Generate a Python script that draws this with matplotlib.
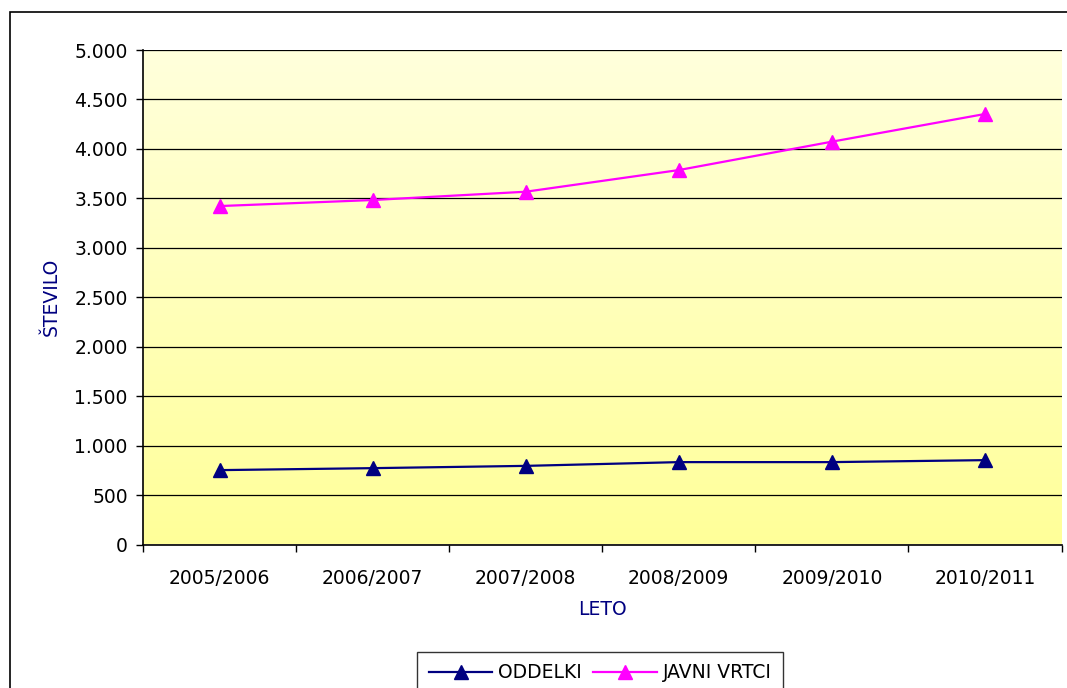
import numpy as np
import matplotlib
matplotlib.use("Agg")
import matplotlib.pyplot as plt
from matplotlib.patches import Rectangle
from matplotlib.colors import LinearSegmentedColormap
from matplotlib.ticker import FuncFormatter, MultipleLocator

years = ["2005/2006", "2006/2007", "2007/2008", "2008/2009", "2009/2010", "2010/2011"]
oddelki = [752, 772, 795, 833, 833, 853]
javni_vrtci = [3422, 3483, 3567, 3786, 4073, 4353]

plt.rcParams["font.family"] = ["DejaVu Sans"]

fig = plt.figure(figsize=(10.67, 6.88), dpi=100)
ax = fig.add_axes([143 / 1067, 1 - 544.5 / 688, (1061.5 - 143) / 1067, (544.5 - 50) / 688])

# yellow gradient behind the plot area: pale at the top, stronger at the bottom
grad = LinearSegmentedColormap.from_list("bg", ["#ffffdc", "#ffff99"])
ax.imshow(np.linspace(0, 1, 256).reshape(-1, 1), cmap=grad, aspect="auto",
          extent=[-0.5, len(years) - 0.5, 0, 5000], origin="upper", zorder=0)

x = np.arange(len(years))
ax.plot(x, oddelki, color="#000080", lw=1.6, marker="^", markersize=9.5,
        label="ODDELKI", zorder=3)
ax.plot(x, javni_vrtci, color="#ff00ff", lw=1.6, marker="^", markersize=9.5,
        label="JAVNI VRTCI", zorder=3)

ax.set_xlim(-0.5, len(years) - 0.5)
ax.set_ylim(0, 5000)
ax.yaxis.set_major_locator(MultipleLocator(500))
ax.yaxis.set_major_formatter(FuncFormatter(lambda v, p: f"{int(v):,}".replace(",", ".")))
ax.set_xticks(x)
ax.set_xticklabels(years)
ax.set_xticks(np.arange(-0.5, len(years)), minor=True)
ax.tick_params(axis="x", which="major", length=0, pad=18, labelsize=13.5)
ax.tick_params(axis="x", which="minor", length=5, width=1)
ax.tick_params(axis="y", length=5, width=1, labelsize=13.5, pad=6)
ax.grid(axis="y", color="black", lw=0.9, zorder=1)
ax.set_axisbelow(False)
for side in ("top", "right"):
    ax.spines[side].set_visible(False)
for side in ("left", "bottom"):
    ax.spines[side].set_color("black")
    ax.spines[side].set_linewidth(1.2)
    ax.spines[side].set_zorder(4)

ax.set_ylabel("ŠTEVILO", color="#000080", fontsize=13.5, labelpad=10)
ax.set_xlabel("LETO", color="#000080", fontsize=13.5, labelpad=8)

leg = fig.legend(loc="upper center", bbox_to_anchor=(600 / 1067, 1 - 652 / 688),
                 ncol=2, frameon=True, fancybox=False, fontsize=13.5,
                 handlelength=3.4, columnspacing=0.6, handletextpad=0.3,
                 borderpad=0.6, borderaxespad=0, edgecolor="black")
leg.get_frame().set_linewidth(1.0)

# outer chart border
fig.patches.append(Rectangle((10 / 1067, -0.2), 1.2, 1 - 12 / 688 + 0.2,
                             transform=fig.transFigure, fill=False,
                             edgecolor="black", lw=1.2, clip_on=False))

fig.savefig("out.png", dpi=100)
